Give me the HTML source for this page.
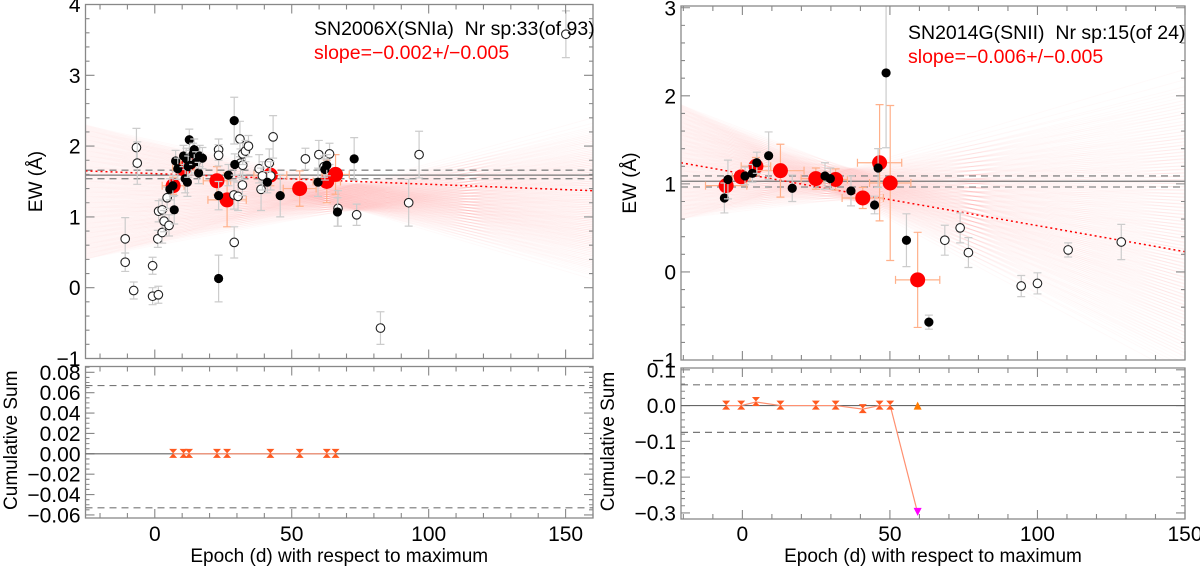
<!DOCTYPE html>
<html><head><meta charset="utf-8">
<style>
html,body{margin:0;padding:0;background:#fff;}
svg{display:block;font-family:"Liberation Sans",Arial,sans-serif;}
</style></head>
<body>
<svg id="fig" width="1200" height="570" viewBox="0 0 1200 570" xmlns="http://www.w3.org/2000/svg"></svg>
<script>
// ---------- DATA: SN2006X ----------
const L_hollowX=[-10.8,-10.8,-7.7,-6.7,-6.4,-0.8,-0.8,1.3,1.1,1.4,2.7,2.7,3.4,4.5,5.2,23.3,23.3,29,28.9,30.4,31.1,31.3,32.1,32,32.1,33.1,34.2,38.1,38.8,39.3,41.8,42.3,43.2,55,59.9,61.8,63.8,66.9,73.7,82.4,92.7,96.5,150.1];
const L_hollowY=[0.69,0.36,-0.04,1.98,1.76,0.31,-0.12,-0.10,0.69,1.08,1.10,0.78,0.94,1.27,0.88,1.95,1.87,0.64,1.31,1.29,2.10,1.76,1.73,1.45,1.89,1.93,2.0,1.68,1.39,1.58,1.76,1.58,2.13,1.82,1.88,1.71,1.89,1.12,1.03,-0.57,1.20,1.88,3.58];
const L_hollowE=[0.3,0.13,0.12,0.27,0.3,0.12,0.12,0.12,0.12,0.15,0.15,0.15,0.15,0.15,0.15,0.15,0.15,0.22,0.2,0.2,0.25,0.2,0.2,0.15,0.15,0.15,0.15,0.2,0.3,0.2,0.2,0.2,0.3,0.15,0.2,0.15,0.15,0.25,0.15,0.23,0.33,0.33,0.33];
const L_blackX=[5.5,6.6,7.1,7.6,8.4,10.5,11.1,11.5,11.9,12.6,12.2,13.3,14,14.4,15.1,16,16.4,17.4,23.3,23.3,26.9,29,29.2,41.1,45.8,59.6,62.1,62.8,66.7,72.8];
const L_blackY=[1.39,1.44,1.10,1.79,1.68,1.86,1.54,1.82,1.49,2.09,1.71,1.74,1.89,1.95,1.77,1.62,1.86,1.83,0.13,1.30,1.59,2.36,1.74,1.49,1.30,1.49,1.67,1.73,1.07,1.82];
const L_blackE=[0.15,0.15,0.2,0.15,0.15,0.15,0.2,0.15,0.2,0.15,0.15,0.15,0.15,0.15,0.15,0.15,0.15,0.15,0.33,0.2,0.15,0.33,0.15,0.15,0.3,0.2,0.15,0.15,0.2,0.3];
const L_binX=[6.7,10.5,12.5,22.7,26.4,42.2,52.9,62.8,66];
const L_binY=[1.44,1.68,1.76,1.51,1.24,1.59,1.40,1.50,1.60];
const L_binXE=[4,4,3,5,7,6,6,5,5];
const L_binYE=[0.12,0.15,0.1,0.2,0.38,0.15,0.25,0.3,0.28];
const L_cumY=[0,0,0,0,0,0,0,0,0];
// ---------- DATA: SN2014G ----------
const R_blackX=[-6.1,-4.9,0.9,3.4,4.9,8.9,16.9,28,29.8,36.8,44.8,46,48.7,55.6,63.2];
const R_blackY=[0.84,1.05,1.09,1.12,1.24,1.32,0.95,1.09,1.06,0.92,0.76,1.18,2.26,0.36,-0.57];
const R_blackE=[0.17,0.22,0.1,0.1,0.12,0.27,0.15,0.15,0.12,0.17,0.1,0.22,0.85,0.3,0.08];
const R_hollowX=[68.6,73.8,76.6,94.5,100,110.4,128.4];
const R_hollowY=[0.36,0.50,0.22,-0.16,-0.13,0.25,0.34];
const R_hollowE=[0.17,0.17,0.17,0.12,0.12,0.08,0.2];
const R_binX=[-5.5,-0.4,4.6,12.9,24.9,31.6,40.8,46.5,50.1,59.4];
const R_binY=[0.98,1.08,1.20,1.15,1.06,1.05,0.84,1.24,1.01,-0.09];
const R_binXE=[7,3,5,8,5,4,7,7.5,7,7.5];
const R_binYE=[0.05,0.05,0.1,0.3,0.12,0.12,0.12,0.66,0.88,0.54];
const R_cumY=[0,0,0.01,0,0,0,-0.01,0,0,-0.3];
// ticks
const L_yTicks=[-1,0,1,2,3,4];
const L_cTicks=[-0.06,-0.04,-0.02,0,0.02,0.04,0.06,0.08];
const L_cLabels=["\u22120.06","\u22120.04","\u22120.02","0.00","0.02","0.04","0.06","0.08"];
const R_yTicks=[-1,0,1,2,3];
const R_cTicks=[-0.3,-0.2,-0.1,0,0.1];
const R_cLabels=["\u22120.3","\u22120.2","\u22120.1","0.0","0.1"];
const xTicks=[0,50,100,150];

const NS="http://www.w3.org/2000/svg";
const svg=document.getElementById('fig');
function el(tag,attrs,parent){const e=document.createElementNS(NS,tag);for(const k in attrs)e.setAttribute(k,attrs[k]);(parent||svg).appendChild(e);return e;}
function lab(v){return v<0?"\u2212"+(-v):""+v;}

function panel(cfg){
  const g=el('g',{});
  
  
  const {x0,x1,xmin,xmax}=cfg;
  const sx=d=>x0+(d-xmin)/(xmax-xmin)*(x1-x0);
  const T=cfg.top,B=cfg.bot;
  const sy=v=>T.y1-(v-T.min)/(T.max-T.min)*(T.y1-T.y0);
  const cy=v=>B.y1-(v-B.min)/(B.max-B.min)*(B.y1-B.y0);
  const clipId='clip'+cfg.id;
  const cp=el('clipPath',{id:clipId},g);el('rect',{x:x0,y:T.y0,width:x1-x0,height:T.y1-T.y0},cp);
  const pg=el('g',{'clip-path':'url(#'+clipId+')'},g);
  const fan=el('g',{},pg);
  
  
  const N=300;
  for(let i=0;i<N;i++){
    const u=i/(N-1);
    const a=cfg.fanL[0]+(cfg.fanL[1]-cfg.fanL[0])*u;
    const j=(i*137)%N;
    const b=cfg.fanR[0]+(cfg.fanR[1]-cfg.fanR[0])*(1-(j/(N-1))*0.3-u*0.7);
    el('line',{x1:x0,y1:sy(a),x2:x1,y2:sy(b),stroke:'rgb(255,120,100)','stroke-opacity':0.035,'stroke-width':1},fan);
  }
  el('line',{x1:x0,x2:x1,y1:sy(cfg.ref[0]),y2:sy(cfg.ref[0]),stroke:'#777','stroke-width':1.3},pg);
  for(const d of [cfg.ref[1],cfg.ref[2]]){
    const ln=el('line',{x1:x0,x2:x1,y1:sy(d),y2:sy(d),stroke:'#888','stroke-width':1.3,'stroke-dasharray':'7,5'},pg);
    
    
  }
  const fit=el('line',{x1:sx(cfg.fit[0]),y1:sy(cfg.fit[1]),x2:sx(cfg.fit[2]),y2:sy(cfg.fit[3]),stroke:'#f00','stroke-width':1.5,'stroke-dasharray':'2,3'},pg);
  
  
  cfg.binX.forEach((d,i)=>{
    const e=el('g',{},pg);
    const X=sx(d),Y=sy(cfg.binY[i]);
    const xl=sx(d-cfg.binXE[i]),xr=sx(d+cfg.binXE[i]),yt=sy(cfg.binY[i]+cfg.binYE[i]),yb=sy(cfg.binY[i]-cfg.binYE[i]);
    el('path',{d:`M${xl},${Y}H${xr}M${xl},${Y-4}V${Y+4}M${xr},${Y-4}V${Y+4}M${X},${yt}V${yb}M${X-4},${yt}H${X+4}M${X-4},${yb}H${X+4}`,stroke:'#ffb08a','stroke-width':1.2,fill:'none'},e);
    el('circle',{cx:X,cy:Y,r:7.5,fill:'#f00'},e);
    
    
  });
  function pts(xs,ys,es,hollow){
    xs.forEach((d,i)=>{
      const e=el('g',{},pg);
      const X=sx(d),Y=sy(ys[i]),yt=sy(ys[i]+es[i]),yb=sy(ys[i]-es[i]);
      el('path',{d:`M${X},${yt}V${yb}M${X-4},${yt}H${X+4}M${X-4},${yb}H${X+4}`,stroke:'#ccc','stroke-width':1.2,fill:'none'},e);
      if(hollow) el('circle',{cx:X,cy:Y,r:4.3,fill:'#fff',stroke:'#222','stroke-width':1.1},e);
      else el('circle',{cx:X,cy:Y,r:4.6,fill:'#000'},e);
      
      
    });
  }
  pts(cfg.hX,cfg.hY,cfg.hE,true);
  pts(cfg.bX,cfg.bY,cfg.bE,false);
  function frame(y0,y1,ticks,labels,scale,minor,vmin,vmax,nameY){
    const f=el('rect',{x:x0,y:y0,width:x1-x0,height:y1-y0,fill:'none',stroke:'#888','stroke-width':1.3},g);
    
    
    let p='';
    for(let d=-20;d<=160;d+=10){ if(d<xmin||d>xmax)continue; const L=(d%50===0)?9:5; const X=sx(d); p+=`M${X},${y1}V${y1-L}M${X},${y0}V${y0+L}`;}
    const start=Math.ceil(vmin/minor-1e-6);
    for(let k=start;k*minor<=vmax+1e-9;k++){const v=k*minor;const Y=scale(v);const maj=ticks.some(t=>Math.abs(t-v)<1e-9);const L=maj?9:4;p+=`M${x0},${Y}H${x0+L}M${x1},${Y}H${x1-L}`;}
    el('path',{d:p,stroke:'#888','stroke-width':1.1,fill:'none'},g);
    const yl=el('g',{},g);
    
    
    ticks.forEach((t,i)=>{const tx=el('text',{x:x0-5,y:scale(t)+7.5,'text-anchor':'end','font-size':21,fill:'#000'},yl);tx.textContent=labels[i];});
  }
  frame(T.y0,T.y1,cfg.yTicks,cfg.yTicks.map(lab),sy,cfg.yMinor,T.min,T.max,'ew-y-tick-labels');
  frame(B.y0,B.y1,cfg.cTicks,cfg.cLabels,cy,cfg.cMinor,B.min,B.max,'cusum-y-tick-labels');
  const cg=el('g',{},g);
  
  
  el('line',{x1:x0,x2:x1,y1:cy(0),y2:cy(0),stroke:'#666','stroke-width':1.2},cg);
  for(const d of cfg.cDash){el('line',{x1:x0,x2:x1,y1:cy(d),y2:cy(d),stroke:'#777','stroke-width':1.2,'stroke-dasharray':'7,5'},cg);}
  el('polyline',{points:cfg.binX.map((d,i)=>sx(d)+','+cy(cfg.cum[i])).join(' '),fill:'none',stroke:'#ff9070','stroke-width':1.2},cg);
  cfg.binX.forEach((d,i)=>{
    const X=sx(d),Y=cy(cfg.cum[i]);
    let m;
    if(cfg.cum[i]<-0.1){
      el('path',{d:`M${X-4},${cy(0)+4}L${X+4},${cy(0)+4}L${X},${cy(0)-4}Z`,fill:'#ff7a00'},cg);
      m=el('path',{d:`M${X-4},${Y-5}L${X+4},${Y-5}L${X},${Y+3}Z`,fill:'#f0f'},cg);
    } else {
      m=el('path',{d:`M${X-4},${Y-5}L${X+4},${Y-5}L${X-4},${Y+4}L${X+4},${Y+4}Z`,fill:'#ff5a20'},cg);
    }
    
    
  });
  const xl=el('g',{},g);
  
  
  xTicks.forEach(t=>{const tx=el('text',{x:sx(t),y:541,'text-anchor':'middle','font-size':21},xl);tx.textContent=lab(t);});
  const xt=el('text',{x:(x0+x1)/2,y:562,'text-anchor':'middle','font-size':19},g);
  xt.textContent='Epoch (d) with respect to maximum';
  
  
  const yt=el('text',{x:0,y:0,'text-anchor':'middle','font-size':19,transform:`translate(${cfg.ewX},${(T.y0+T.y1)/2}) rotate(-90)`},g);
  yt.textContent='EW (\u00c5)';
  
  
  const ct=el('text',{x:0,y:0,'text-anchor':'middle','font-size':19,transform:`translate(${cfg.csX},${(B.y0+B.y1)/2-2}) rotate(-90)`},g);
  ct.textContent='Cumulative Sum';
  
  
  const t1=el('text',{x:cfg.titleX,y:cfg.titleY,'font-size':19.5,fill:'#000'},g);
  t1.textContent=cfg.title;t1.setAttribute('xml:space','preserve');t1.style.whiteSpace='pre';
  
  
  const t2=el('text',{x:cfg.titleX,y:cfg.titleY+24,'font-size':19.5,fill:'#f00'},g);
  t2.textContent=cfg.slope;
  
  
}

panel({id:'L',name:'sn2006x-panel',x0:85.5,x1:593,xmin:-25.3,xmax:160,
  top:{y0:4.5,y1:358.5,min:-1,max:4},bot:{y0:366.5,y1:518,min:-0.063,max:0.0857},
  yTicks:L_yTicks,yMinor:0.2,cTicks:L_cTicks,cLabels:L_cLabels,cMinor:0.005,
  fanL:[0.4,2.3],fanR:[0.05,2.4],ref:[1.59,1.66,1.54],fit:[-25.3,1.65,160,1.37],
  binX:L_binX,binY:L_binY,binXE:L_binXE,binYE:L_binYE,cum:L_cumY,cDash:[0.067,-0.053],
  hX:L_hollowX,hY:L_hollowY,hE:L_hollowE,bX:L_blackX,bY:L_blackY,bE:L_blackE,
  ewX:42,csX:17,titleX:314,titleY:35,title:'SN2006X(SNIa)  Nr sp:33(of 93)',slope:'slope=\u22120.002+/\u22120.005'});
panel({id:'R',name:'sn2014g-panel',x0:681,x1:1185,xmin:-20.8,xmax:150,
  top:{y0:6,y1:360,min:-1,max:3.02},bot:{y0:368,y1:519,min:-0.317,max:0.105},
  yTicks:R_yTicks,yMinor:0.2,cTicks:R_cTicks,cLabels:R_cLabels,cMinor:0.02,
  fanL:[0.6,1.9],fanR:[-1.3,2.3],ref:[1.03,1.09,0.965],fit:[-20.8,1.24,150,0.23],
  binX:R_binX,binY:R_binY,binXE:R_binXE,binYE:R_binYE,cum:R_cumY,cDash:[0.058,-0.075],
  hX:R_hollowX,hY:R_hollowY,hE:R_hollowE,bX:R_blackX,bY:R_blackY,bE:R_blackE,
  ewX:636,csX:614,titleX:908,titleY:39,title:'SN2014G(SNII)  Nr sp:15(of 24)',slope:'slope=\u22120.006+/\u22120.005'});
</script>
</body></html>
